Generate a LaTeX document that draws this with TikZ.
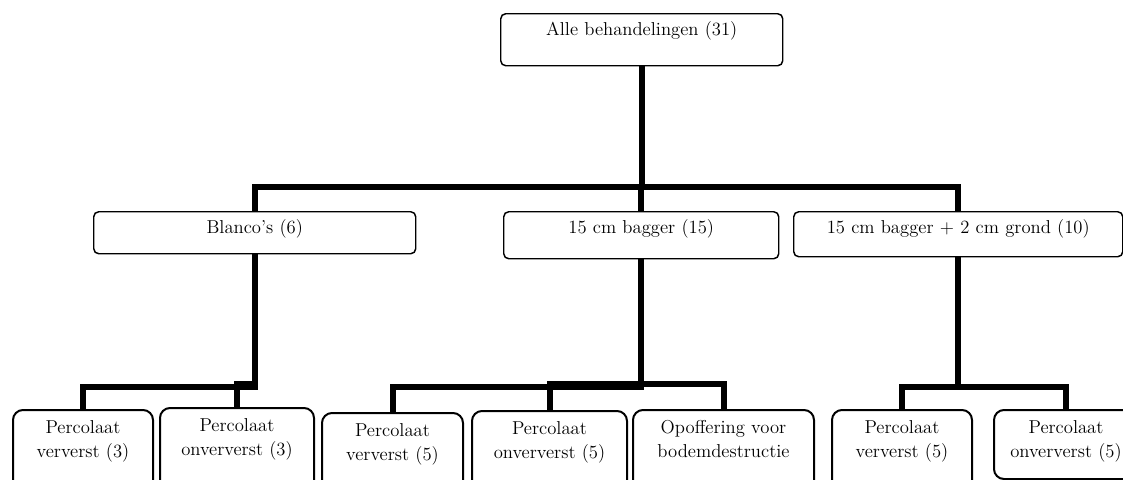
\documentclass[tikz,border=0pt]{standalone}
\usepackage{tikz}
\tikzset{
	boxmid/.style={draw, line width=1.1pt, rounded corners=3.75pt, inner sep=0pt, align=center, anchor=north west, text height=16.5pt},
	boxleaf/.style={draw, line width=1.5pt, rounded corners=7.5pt, inner sep=0pt, align=center, anchor=north west, text height=17.5pt, text depth=45pt},
	link/.style={line width=4.5pt}
}

\begin{document}
\begin{tikzpicture}[x=0.75pt,y=-0.75pt,font=\fontsize{14}{18}\selectfont]
				%%%%% START %%%%%
				\def\picw{1123}
				\def\pich{479}
				\path[fill=white] (0,0) rectangle (\picw,\pich);
				\clip (0,0) rectangle (\picw,\pich);

				\coordinate (rowA) at (0,186.5);
				\coordinate (kneeA) at (0,386.5);
				\coordinate (kneeB) at (0,384);

				\node[boxmid, text width=211.5pt, text depth=22.5pt] (alle) at (500,13) {Alle behandelingen (31)};

				\node[boxmid, text width=241.5pt, text depth=15pt] (blanco) at (93,211) {Blanco's (6)};
				\node[boxmid, text width=206.25pt, text depth=18.75pt] (bagger) at (503,211) {15 cm bagger (15)};
				\node[boxmid, text width=246.75pt, text depth=17.25pt] (grond) at (793,211) {15 cm bagger + 2 cm grond (10)};

				\node[boxleaf, text width=105pt] (bl1) at (12,409) {Percolaat\\ververst (3)};
				\node[boxleaf, text width=115.5pt] (bl2) at (159,407) {Percolaat\\onververst (3)};
				\node[boxleaf, text width=105.75pt] (ba1) at (321,412) {Percolaat\\ververst (5)};
				\node[boxleaf, text width=116.25pt] (ba2) at (471,410) {Percolaat\\onververst (5)};
				\node[boxleaf, text width=135.75pt] (ba3) at (632,409) {Opoffering voor\\bodemdestructie};
				\node[boxleaf, text width=105pt] (gr1) at (831,409) {Percolaat\\ververst (5)};
				\node[boxleaf, text width=108pt, text depth=34.25pt] (gr2) at (993,409) {Percolaat\\onververst (5)};

				\draw[link] (alle.south) -- (alle.south |- rowA) -| (blanco.north);
				\draw[link] (alle.south) -- (alle.south |- rowA) -| (bagger.north);
				\draw[link] (alle.south) -- (alle.south |- rowA) -| (grond.north);

				\draw[link] (blanco.south) -- (blanco.south |- kneeA) -| (bl1.north);
				\draw[link] (blanco.south) -- (blanco.south |- kneeB) -| (bl2.north);

				\draw[link] (bagger.south) -- (bagger.south |- kneeA) -| (ba1.north);
				\draw[link] (bagger.south) -- (bagger.south |- kneeB) -| (ba2.north);
				\draw[link] (bagger.south) -- (bagger.south |- kneeB) -| (ba3.north);

				\draw[link] (grond.south) -- (grond.south |- kneeA) -| (gr1.north);
				\draw[link] (grond.south) -- (grond.south |- kneeA) -| (gr2.north);
				%%%%% START %%%%%
			\end{tikzpicture}
\end{document}
